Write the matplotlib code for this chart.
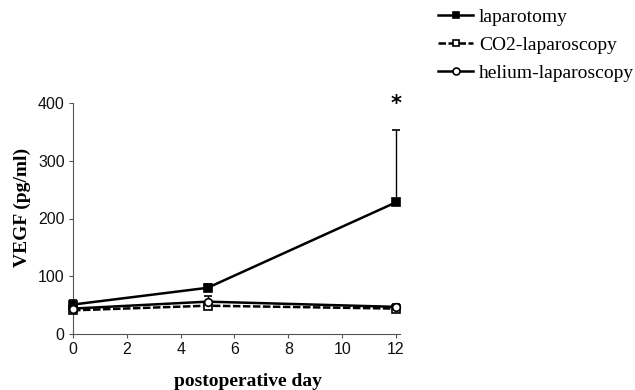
import matplotlib
matplotlib.use("Agg")
import matplotlib.pyplot as plt
from matplotlib.lines import Line2D

days = [0, 5, 12]
lap = [51, 80, 228]
lap_err = [8, 7, 125]
co2 = [41, 49, 44]
co2_err = [4, 4, 5]
hel = [44, 56, 47]
hel_err = [6, 9, 5]
labels = ["laparotomy", "CO2-laparoscopy", "helium-laparoscopy"]
xticks = [0, 2, 4, 6, 8, 10, 12]
yticks = [0, 100, 200, 300, 400]

W, H = 635, 390
fig = plt.figure(figsize=(W / 100, H / 100), dpi=100)
ax = fig.add_axes([73 / W, 1 - 334 / H, (400 - 73) / W, (334 - 103) / H])

lw = 1.8
styles = [
    dict(ls="-", marker="s", mfc="black"),
    dict(ls=(0, (3, 1)), marker="s", mfc="white"),
    dict(ls="-", marker="o", mfc="white"),
]
series = [(lap, lap_err), (co2, co2_err), (hel, hel_err)]
handles = []
for (vals, err), st, lab in zip(series, styles, labels):
    h = ax.errorbar(days, vals, yerr=[[0] * len(err), err], color="black", lw=lw,
                    ls=st["ls"], marker=st["marker"], ms=5.5, mfc=st["mfc"], mec="black",
                    mew=1.2, capsize=3, elinewidth=1, capthick=1, clip_on=False, zorder=3)
    for b in h[2]:
        b.set_linestyle("-")
    handles.append(Line2D([], [], color="black", lw=lw, ls=st["ls"], marker=st["marker"],
                          ms=5, mfc=st["mfc"], mec="black", mew=1.2))

ax.set_xlim(0, 12.15)
ax.set_ylim(0, 400)
ax.set_xticks(xticks)
ax.set_yticks(yticks)
for s in ("top", "right"):
    ax.spines[s].set_visible(False)
for s in ("left", "bottom"):
    ax.spines[s].set_color("#555555")
    ax.spines[s].set_linewidth(0.8)
ax.tick_params(direction="out", length=3, width=0.8, color="#555555",
               labelsize=11.5, labelcolor="#111111", pad=3)
for t in ax.get_xticklabels() + ax.get_yticklabels():
    t.set_family("Liberation Sans")

fig.text(248 / W, 1 - 386 / H, "postoperative day", ha="center", va="baseline",
         family="Liberation Serif", fontweight="bold", fontsize=14)
fig.text(22 / W, 1 - 207 / H, "VEGF (pg/ml)", ha="center", va="center", rotation=90,
         family="Liberation Serif", fontweight="bold", fontsize=14)

ax.text(12, 398, "*", ha="center", va="center", fontsize=15, fontweight="bold",
        family="DejaVu Sans", clip_on=False)

fig.legend(handles=handles, labels=labels, loc="upper left",
           bbox_to_anchor=(438 / W, 1 - 8 / H), frameon=False,
           prop={"family": "Liberation Serif", "size": 14},
           handlelength=1.8, handletextpad=0.3, labelspacing=0.55,
           borderaxespad=0, borderpad=0)

fig.savefig("out.png", dpi=100)
